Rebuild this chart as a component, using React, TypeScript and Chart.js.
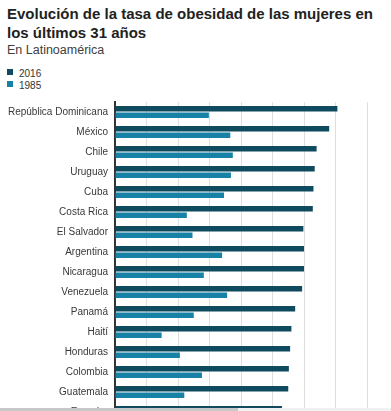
import React, { useEffect, useRef } from "react";
import { Chart, registerables } from "chart.js";

Chart.register(...registerables);

const titleLines = ["Evolución de la tasa de obesidad de las mujeres en", "los últimos 31 años"];
const subtitle = "En Latinoamérica";

const categories = [
  "República Dominicana",
  "México",
  "Chile",
  "Uruguay",
  "Cuba",
  "Costa Rica",
  "El Salvador",
  "Argentina",
  "Nicaragua",
  "Venezuela",
  "Panamá",
  "Haití",
  "Honduras",
  "Colombia",
  "Guatemala",
  "Ecuador",
];

const values2016 = [35.3, 34.0, 32.0, 31.7, 31.5, 31.4, 29.9, 30.0, 30.0, 29.7, 28.6, 28.0, 27.8, 27.6, 27.5, 26.5];
const values1985 = [14.9, 18.3, 18.7, 18.4, 17.3, 11.4, 12.3, 17.0, 14.1, 17.8, 12.5, 7.4, 10.3, 13.8, 11.0, 11.5];

const seriesLabels = ["2016", "1985"];
const seriesColors = ["#0f4b5e", "#1781a6"];

const xMin = 0;
const xMax = 40;
const xStep = 5;

const FONT = '"Liberation Sans", Arial, Helvetica, sans-serif';

export default function App() {
  const canvasRef = useRef<HTMLCanvasElement | null>(null);

  useEffect(() => {
    const canvas = canvasRef.current;
    if (!canvas) return;
    const chart = new Chart(canvas, {
      type: "bar",
      data: {
        labels: categories,
        datasets: [
          {
            label: seriesLabels[0],
            data: values2016,
            backgroundColor: seriesColors[0],
            categoryPercentage: 0.65,
            barPercentage: 0.85,
          },
          {
            label: seriesLabels[1],
            data: values1985,
            backgroundColor: seriesColors[1],
            categoryPercentage: 0.65,
            barPercentage: 0.85,
          },
        ],
      },
      options: {
        indexAxis: "y",
        animation: false,
        responsive: false,
        maintainAspectRatio: false,
        layout: { padding: { top: 2, right: 24, bottom: 0, left: 0 } },
        plugins: {
          legend: { display: false },
          tooltip: { enabled: false },
        },
        scales: {
          x: {
            min: xMin,
            max: xMax,
            ticks: { display: false, stepSize: xStep },
            grid: { color: "#dedede", lineWidth: 1, drawTicks: false },
            border: { display: false },
          },
          y: {
            grid: { display: false, drawTicks: false },
            border: { display: true, color: "#333333", width: 2 },
            ticks: {
              color: "#383838",
              padding: 7,
              font: { family: FONT, size: 10 },
            },
            afterFit: (scale: any) => {
              scale.width = 115;
              scale.paddingTop = 0;
              scale.paddingBottom = 0;
            },
          },
        },
      },
    });
    return () => chart.destroy();
  }, []);

  return (
    <div
      style={{
        position: "absolute",
        left: 0,
        top: 0,
        width: 391,
        height: 411,
        overflow: "hidden",
        background: "#ffffff",
        fontFamily: FONT,
      }}
    >
      <div
        style={{
          position: "absolute",
          left: 7,
          top: 4,
          fontSize: 15,
          fontWeight: "bold",
          lineHeight: "19px",
          color: "#222222",
          whiteSpace: "nowrap",
        }}
      >
        {titleLines[0]}
        <br />
        {titleLines[1]}
      </div>
      <div
        style={{
          position: "absolute",
          left: 7,
          top: 43,
          fontSize: 12.5,
          lineHeight: "15px",
          color: "#404040",
          whiteSpace: "nowrap",
        }}
      >
        {subtitle}
      </div>
      {seriesLabels.map((lab, i) => (
        <div
          key={lab}
          style={{
            position: "absolute",
            left: 7,
            top: 68 + i * 11.7,
            height: 12,
            display: "flex",
            alignItems: "flex-start",
            fontSize: 10,
            lineHeight: "12px",
            color: "#333333",
          }}
        >
          <span
            style={{
              display: "inline-block",
              width: 6,
              height: 6,
              marginTop: 1,
              background: seriesColors[i],
            }}
          />
          <span style={{ marginLeft: 6 }}>{lab}</span>
        </div>
      ))}
      <canvas
        ref={canvasRef}
        width={391}
        height={322}
        style={{ position: "absolute", left: 0, top: 100, width: 391, height: 322 }}
      />
      <div
        style={{
          position: "absolute",
          left: 0,
          top: 408,
          width: 391,
          height: 3,
          background: "#f1f1f1",
        }}
      />
      <div
        style={{
          position: "absolute",
          left: 0,
          top: 408,
          width: 238,
          height: 3,
          background: "#c8c8c8",
        }}
      />
    </div>
  );
}
